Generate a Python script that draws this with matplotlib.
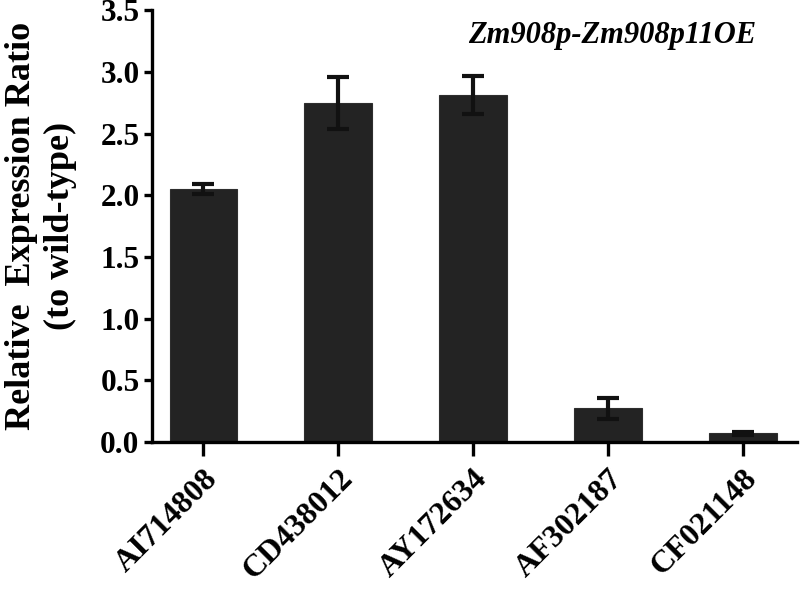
import matplotlib
matplotlib.use("Agg")
import matplotlib.pyplot as plt

genes = ["AI714808", "CD438012", "AY172634", "AF302187", "CF021148"]
values = [2.05, 2.745, 2.815, 0.275, 0.07]
errors = [0.04, 0.21, 0.155, 0.085, 0.012]
yticks = [0.0, 0.5, 1.0, 1.5, 2.0, 2.5, 3.0, 3.5]

plt.rcParams['font.family'] = ['Liberation Serif', 'DejaVu Serif']
plt.rcParams['font.weight'] = 'bold'

fig = plt.figure(figsize=(8, 5.9), dpi=100)
ax = fig.add_axes([0.19, 0.2508, 0.806, 0.732])

x = list(range(len(genes)))
ax.bar(x, values, width=0.5, color='#232323', edgecolor='#2e2e2e', linewidth=0.8, zorder=2)
ax.errorbar(x, values, yerr=errors, fmt='none', ecolor='#111111', elinewidth=3,
            capsize=8, capthick=3, zorder=3)

ax.set_xlim(-0.38, 4.4)
ax.set_ylim(0, 3.5)
ax.set_yticks(yticks)
ax.set_yticklabels([f"{t:.1f}" for t in yticks], fontsize=22.5, fontweight='bold')
ax.set_xticks(x)
ax.set_xticklabels(genes, rotation=45, ha='right', rotation_mode='anchor',
                   fontsize=23, fontweight='bold')

for s in ['top', 'right']:
    ax.spines[s].set_visible(False)
for s in ['left', 'bottom']:
    ax.spines[s].set_linewidth(2.4)
ax.tick_params(axis='y', direction='out', length=6, width=2.4, pad=3)
ax.tick_params(axis='x', direction='out', length=10, width=2.4, pad=6)

ax.set_ylabel("Relative  Expression Ratio\n(to wild-type)", fontsize=26,
              fontweight='bold', linespacing=1.2, labelpad=17)

ax.text(0.937, 0.975, "Zm908p-Zm908p11OE", transform=ax.transAxes, ha='right', va='top',
        fontsize=22, fontweight='bold', fontstyle='italic')

fig.savefig("out.png", dpi=100)
